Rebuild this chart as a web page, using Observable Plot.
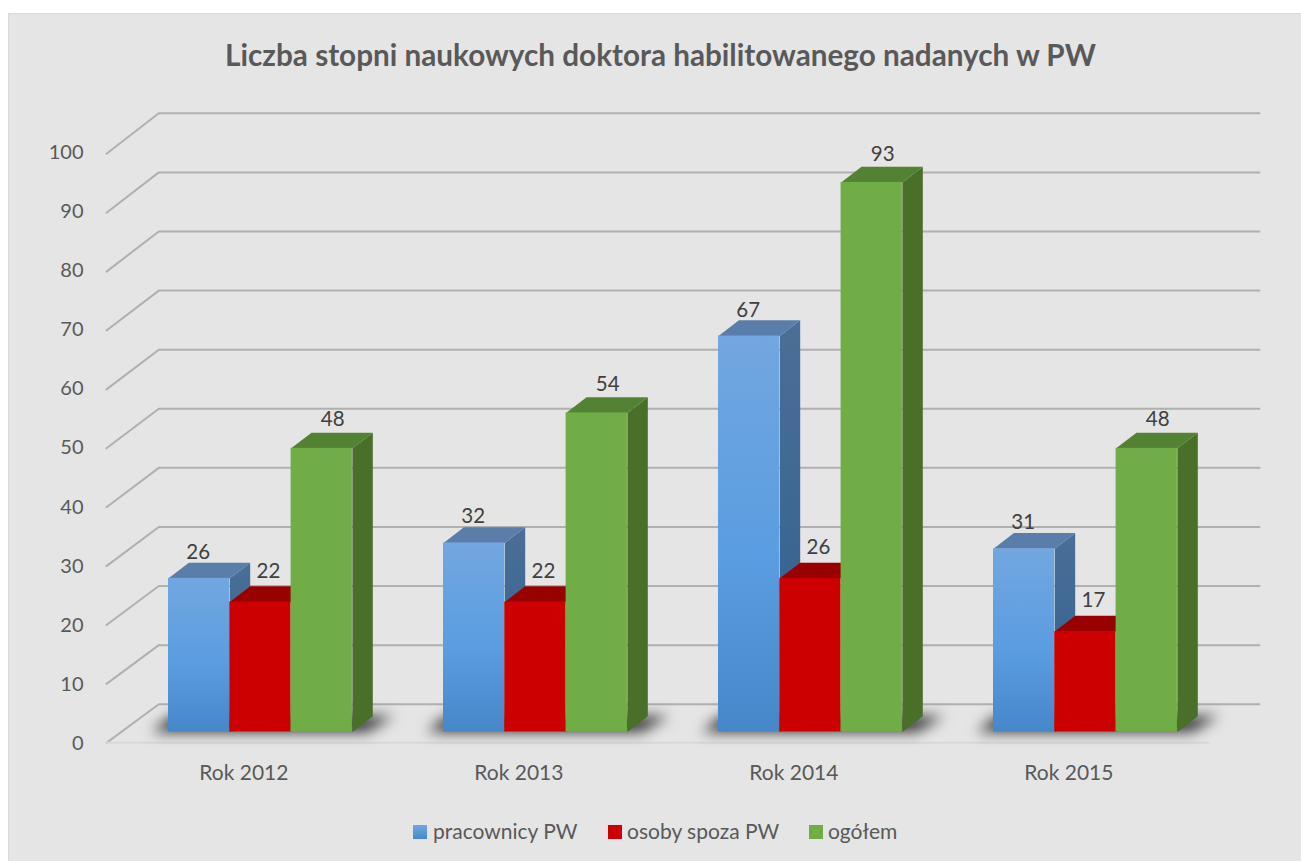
<!DOCTYPE html>
<html lang="pl">
<head>
<meta charset="utf-8">
<script src="https://cdn.jsdelivr.net/npm/d3@7"></script>
<script src="https://cdn.jsdelivr.net/npm/@observablehq/plot@0.6"></script>
<style>
html,body{margin:0;padding:0;background:#fff;overflow:hidden}
#panel{position:absolute;left:8px;top:13px;width:1293px;height:848px;background:#e5e5e5;border-left:1px solid #d9d9d9;border-top:1px solid #d9d9d9;box-sizing:border-box;font-family:Lato,sans-serif}
#title{position:absolute;left:-8px;top:0;width:1319px;height:76px;line-height:82px;text-align:center;font-weight:700;font-size:29.7px;color:#595959;white-space:nowrap}
#plot{position:absolute;left:-9px;top:76px}
#plot svg{display:block;background:transparent}
#legend{position:absolute;left:0;top:787px;width:1292px;height:60px;font-size:21px;color:#595959}
#legend span{position:absolute;top:18px;line-height:24px;white-space:nowrap}
#legend i{position:absolute;top:24px;width:14px;height:14px}
</style>
</head>
<body>
<div id="panel">
  <div id="title">Liczba stopni naukowych doktora habilitowanego nadanych w PW</div>
  <div id="plot"></div>
  <div id="legend"></div>
</div>
<script>
const categories = ["Rok 2012", "Rok 2013", "Rok 2014", "Rok 2015"];
const pracownicy = [26, 32, 67, 31];
const spoza = [22, 22, 26, 17];
const ogolem = [48, 54, 93, 48];
const yTicks = [0, 10, 20, 30, 40, 50, 60, 70, 80, 90, 100];
const seriesNames = ["pracownicy PW", "osoby spoza PW", "ogółem"];

const W = 1301, H = 710;
const barW = 0.2229, depthX = 0.0742, depthY = 2.66;
const wallLift = 4.7, frontDrop = -1.83, frontScale = 0.9968;
const gridFrontX = -0.2255, gridBackX = -0.0353, gridEndX = 3.967, floorEndX = 3.782;

const series = [
  {values: pracownicy, off: 0, front: "url(#gBlue)", side: "url(#gBlueSide)", top: "#5a7ea9", dx: -1, dy: -26},
  {values: spoza, off: barW, front: "#cc0000", side: "#990000", top: "#990000", dx: 8, dy: -31},
  {values: ogolem, off: 2 * barW, front: "#70ad47", side: "#4a6f29", top: "#548235", dx: 11, dy: -28.5}
];

const frontY = t => frontDrop + frontScale * t;
const gridPts = yTicks.flatMap(t => [
  {x: gridFrontX, y: frontY(t), t},
  {x: gridBackX, y: t + wallLift, t},
  {x: gridEndX, y: t + wallLift, t}
]);
const floorPts = [{x: gridFrontX, y: frontDrop}, {x: floorEndX, y: frontDrop}];
const shadowPts = categories.flatMap((c, i) => [
  {x: i - 0.06, y: 0, i},
  {x: i + 0.01, y: 2.7, i},
  {x: i + 0.82, y: 2.7, i},
  {x: i + 0.72, y: 0, i}
]);

function faces(s) {
  const left = s.values.map((v, i) => i + s.off);
  return {
    rects: s.values.map((v, i) => ({x1: left[i], x2: left[i] + barW, v})),
    tops: s.values.flatMap((v, i) => [
      {x: left[i], y: v, i},
      {x: left[i] + depthX, y: v + depthY, i},
      {x: left[i] + barW + depthX, y: v + depthY, i},
      {x: left[i] + barW, y: v, i}
    ]),
    sides: s.values.flatMap((v, i) => [
      {x: left[i] + barW, y: 0, i},
      {x: left[i] + barW + depthX, y: depthY, i},
      {x: left[i] + barW + depthX, y: v + depthY, i},
      {x: left[i] + barW, y: v, i}
    ]),
    labels: s.values.map((v, i) => ({x: left[i] + barW / 2, y: v, v}))
  };
}

const defs = () => {
  const g = document.createElementNS("http://www.w3.org/2000/svg", "defs");
  g.innerHTML = `
  <linearGradient id="gBlue" x1="0" y1="0" x2="0" y2="1">
    <stop offset="0" stop-color="#72a7e0"/><stop offset="0.55" stop-color="#5a9de0"/><stop offset="1" stop-color="#4687ca"/>
  </linearGradient>
  <linearGradient id="gBlueSide" x1="0" y1="0" x2="0" y2="1">
    <stop offset="0" stop-color="#4a6f97"/><stop offset="1" stop-color="#2f5f90"/>
  </linearGradient>`;
  return g;
};

const barMarks = series.flatMap(s => {
  const f = faces(s);
  return [
    Plot.line(f.sides, {x: "x", y: "y", z: "i", fill: s.side, stroke: "none"}),
    Plot.line(f.tops, {x: "x", y: "y", z: "i", fill: s.top, stroke: "none"}),
    Plot.rect(f.rects, {x1: "x1", x2: "x2", y1: 0, y2: "v", fill: s.front})
  ];
});
const labelMarks = series.map(s => Plot.text(faces(s).labels, {
  x: "x", y: "y", text: "v", dx: s.dx, dy: s.dy, fontSize: 20.5, fill: "#404040", fontFamily: "Lato"
}));

const chart = Plot.plot({
  width: W, height: H,
  marginLeft: 106, marginRight: 0, marginTop: 0, marginBottom: 0,
  style: {background: "transparent", fontFamily: "Lato"},
  x: {type: "linear", domain: [-0.2255, 4.12], axis: null},
  y: {type: "linear", domain: [-11.59, 108.56], axis: null},
  marks: [
    defs,
    Plot.line(gridPts, {x: "x", y: "y", z: "t", stroke: "#b2afaf", strokeWidth: 2}),
    Plot.line(floorPts, {x: "x", y: "y", stroke: "#d9d9d9", strokeWidth: 2}),
    Plot.line(shadowPts, {x: "x", y: "y", z: "i", fill: "#333333", stroke: "none", imageFilter: "blur(7px)"}),
    ...barMarks,
    ...labelMarks,
    Plot.axisY({ticks: yTicks, tickSize: 0, tickPadding: 23, dy: 11.5, fontSize: 20, color: "#595959", fontFamily: "Lato"}),
    Plot.text(categories, {
      x: (d, i) => i + 0.274, y: -6.9, text: d => d,
      fontSize: 21, fill: "#595959", fontFamily: "Lato"
    })
  ]
});
document.getElementById("plot").appendChild(chart);

const legend = document.getElementById("legend");
const swatches = ["linear-gradient(#72a7e0,#4687ca)", "#cc0000", "#70ad47"];
const swatchX = [404, 599, 800];
const textX = [424, 618, 819];
seriesNames.forEach((n, k) => {
  const i = document.createElement("i");
  i.style.left = swatchX[k] + "px"; i.style.background = swatches[k];
  const s = document.createElement("span");
  s.style.left = textX[k] + "px"; s.textContent = n;
  legend.append(i, s);
});
</script>
</body>
</html>
